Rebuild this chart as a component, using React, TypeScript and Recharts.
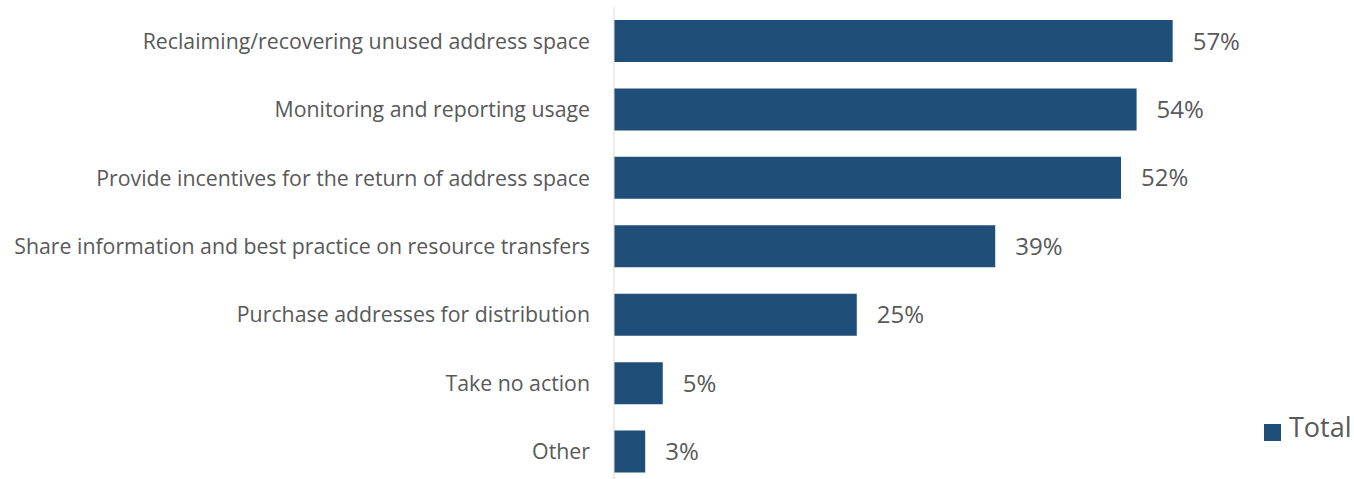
import React from 'react';
import { BarChart, Bar, XAxis, YAxis, Legend, LabelList } from 'recharts';

const categories = [
  'Reclaiming/recovering unused address space',
  'Monitoring and reporting usage',
  'Provide incentives for the return of address space',
  'Share information and best practice on resource transfers',
  'Purchase addresses for distribution',
  'Take no action',
  'Other',
];
const totals = [57.3, 53.6, 52.0, 39.1, 24.9, 5.0, 3.2];

const data = categories.map((name, i) => ({ name, Total: totals[i] }));

const textColor = '#595959';
const barColor = '#1F4E79';
const font = '"Open Sans", sans-serif';

export default function App() {
  return (
    <div style={{ width: 1354, height: 479, overflow: 'hidden', fontFamily: font, position: 'relative' }}>
      <style>{`body{margin:0}`}</style>
      <BarChart
        width={1354}
        height={486}
        data={data}
        layout="vertical"
        margin={{ top: 7, right: 155, bottom: 0, left: 0 }}
      >
        <XAxis type="number" domain={[0, 60]} hide />
        <YAxis
          type="category"
          dataKey="name"
          width={614}
          axisLine={{ stroke: '#d9d9d9' }}
          tickLine={false}
          tickSize={0}
          tickMargin={24}
          tick={{ fill: textColor, fontSize: 21.3, fontFamily: font }}
          interval={0}
        />
        <Legend
          layout="vertical"
          align="center"
          verticalAlign="middle"
          iconType="square"
          iconSize={17}
          wrapperStyle={{ position: 'absolute', left: 1264, top: 408, width: 120, whiteSpace: 'nowrap', textAlign: 'left' }}
          formatter={(v: any) => (
            <span style={{ color: textColor, fontSize: 27, fontFamily: font, marginLeft: 4 }}>{v}</span>
          )}
        />
        <Bar dataKey="Total" fill={barColor} barSize={42} isAnimationActive={false}>
          <LabelList
            dataKey="Total"
            position="right"
            offset={20}
            formatter={(v: any) => `${Math.round(v)}%`}
            style={{ fill: textColor, fontSize: 24, fontFamily: font }}
          />
        </Bar>
      </BarChart>
    </div>
  );
}
